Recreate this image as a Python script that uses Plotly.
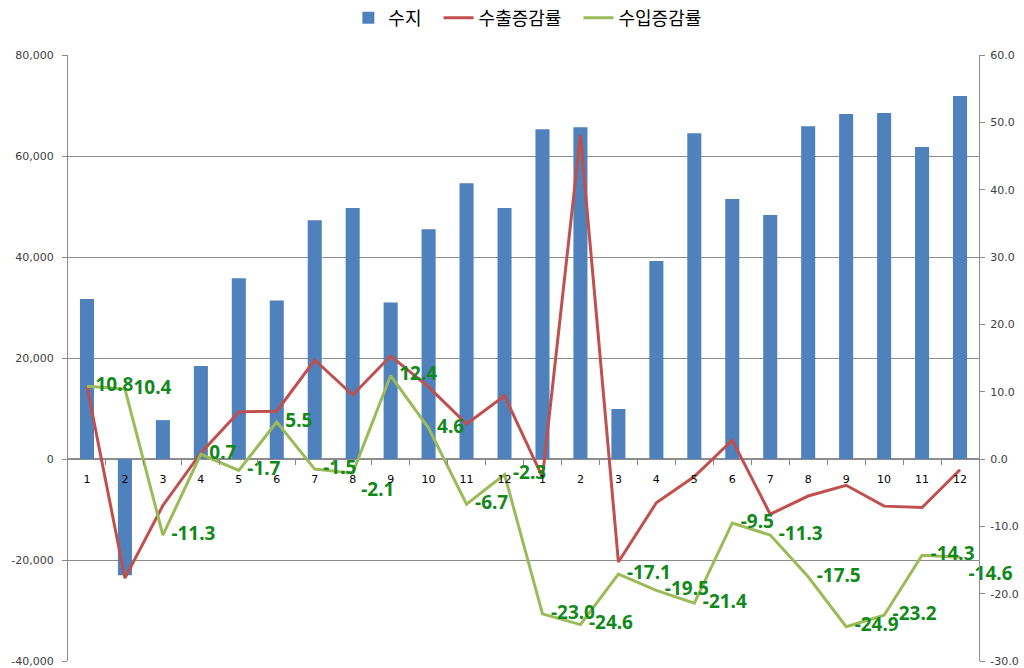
import plotly.graph_objects as go

months = ["1","2","3","4","5","6","7","8","9","10","11","12",
          "1","2","3","4","5","6","7","8","9","10","11","12"]
balance = [31700, -23000, 7700, 18400, 35800, 31400, 47300, 49700, 31000, 45500, 54600, 49700,
           65300, 65700, 9900, 39200, 64500, 51500, 48300, 65900, 68300, 68500, 61800, 71900]
export_growth = [10.8, -17.7, -6.9, 0.9, 7.0, 7.1, 14.7, 9.5, 15.3, 10.7, 5.2, 9.4,
                 -2.7, 48.1, -15.3, -6.5, -2.6, 2.8, -8.2, -5.5, -3.9, -7.0, -7.2, -1.6]
import_growth = [10.8, 10.4, -11.3, 0.7, -1.7, 5.5, -1.5, -2.1, 12.4, 4.6, -6.7, -2.3,
                 -23.0, -24.6, -17.1, -19.5, -21.4, -9.5, -11.3, -17.5, -24.9, -23.2, -14.3, -14.6]

left_ticks = [-40000, -20000, 0, 20000, 40000, 60000, 80000]
left_labels = ["-40,000", "-20,000", "0", "20,000", "40,000", "60,000", "80,000"]
right_ticks = [-30, -20, -10, 0, 10, 20, 30, 40, 50, 60]
right_labels = ["-30.0", "-20.0", "-10.0", "0.0", "10.0", "20.0", "30.0", "40.0", "50.0", "60.0"]

x = list(range(len(months)))
label_pos = ["middle right"] * len(x)
label_pos[7] = "bottom right"
label_pos[23] = "bottom right"

NB = "\u00a0"

fig = go.Figure()
fig.add_trace(go.Bar(x=x, y=balance, name="수지" + NB * 3,
                     marker=dict(color="#4F81BD", line=dict(width=0)), width=0.37))
fig.add_trace(go.Scatter(x=x, y=export_growth, name="수출증감률" + NB * 3, yaxis="y2", mode="lines",
                         line=dict(color="#C0504D", width=3)))
fig.add_trace(go.Scatter(x=x, y=import_growth, name="수입증감률", yaxis="y2", mode="lines+markers+text",
                         line=dict(color="#9BBB59", width=3),
                         marker=dict(size=12, color="rgba(0,0,0,0)", line=dict(width=0)),
                         text=[f"{v:.1f}" for v in import_growth],
                         texttemplate="<b>%{text}</b>",
                         textposition=label_pos, cliponaxis=False,
                         textfont=dict(family="Noto Sans", size=19, color="#12891A")))

fig.update_layout(
    width=1024, height=668,
    margin=dict(l=68, r=45, t=55, b=7, autoexpand=False),
    paper_bgcolor="white", plot_bgcolor="white",
    font=dict(family="DejaVu Sans", size=11, color="#404040"),
    showlegend=True,
    legend=dict(orientation="h", x=0.515, xanchor="center", xref="container",
                y=0.973, yanchor="middle", yref="container",
                font=dict(family="Noto Sans CJK KR", size=18, color="#000000"),
                traceorder="normal"),
    xaxis=dict(range=[-0.5, 23.5], tickvals=x, ticktext=months, ticks="",
               showgrid=False, showline=False, zeroline=False,
               anchor="free", position=1/3, ticklabelstandoff=12,
               tickfont=dict(family="DejaVu Sans", size=11, color="#000000"),
               minor=dict(tickvals=[i + 0.5 for i in x], ticks="outside", ticklen=5,
                          tickcolor="#868686", showgrid=False)),
    yaxis=dict(range=[-40000, 80000], tickvals=left_ticks, ticktext=left_labels, showgrid=True,
               gridcolor="#8C8C8C", gridwidth=1, zeroline=True, zerolinecolor="#8C8C8C",
               showline=True, linecolor="#8C8C8C", ticks="outside", ticklen=5,
               tickcolor="#8C8C8C", ticklabelstandoff=6,
               tickfont=dict(size=11, color="#404040")),
    yaxis2=dict(range=[-30, 60], tickvals=right_ticks, ticktext=right_labels,
                overlaying="y", side="right",
                showgrid=False, zeroline=False, showline=True, linecolor="#8C8C8C",
                ticks="outside", ticklen=5, tickcolor="#8C8C8C", ticklabelstandoff=3,
                tickfont=dict(size=11, color="#404040")),
)

fig.write_html("out.html", config={"displayModeBar": False},
               post_script="document.body.style.margin='0';document.body.style.overflow='hidden';")
